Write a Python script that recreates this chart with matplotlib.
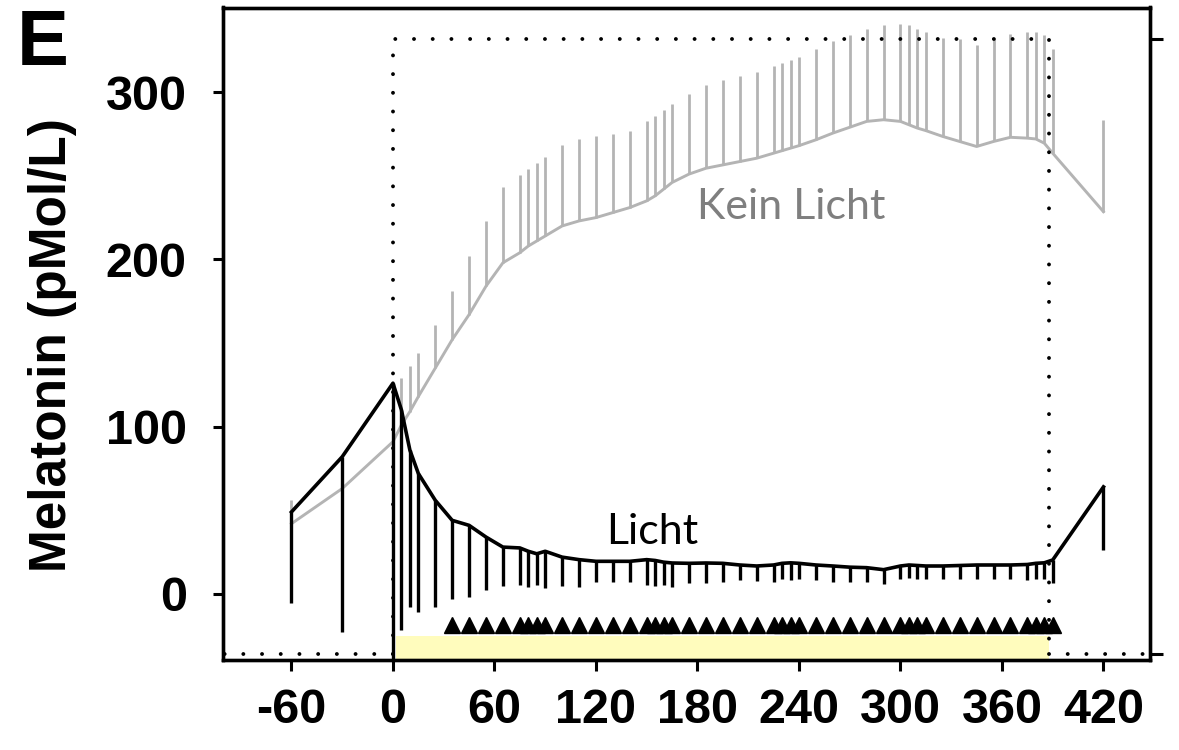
import matplotlib
matplotlib.use("Agg")
import matplotlib.pyplot as plt

# sample times (min relative to light onset)
minutes = [-60, -30, 0, 5, 10, 15, 25, 35, 45, 55, 65, 75, 80, 85, 90,
           100, 110, 120, 130, 140, 150, 155, 160, 165, 175, 185, 195, 205,
           215, 225, 230, 235, 240, 250, 260, 270, 280, 290, 300, 305, 310,
           315, 325, 335, 345, 355, 365, 375, 380, 385, 390, 420]

# no light condition: mean and top of error bar
kein_licht = [42, 63, 91, 101, 109, 118, 135, 152, 167, 184, 198, 204, 208,
              211, 214, 220, 223, 225, 228, 231, 235, 238, 242, 246, 251,
              254.5, 256.5, 258.5, 260.5, 263.5, 265, 266.5, 268, 271.5,
              275.5, 279, 282.5, 283.5, 282.5, 280.5, 278.5, 277, 273.5,
              270.5, 267.5, 270.5, 273, 272.5, 272, 269.5, 263.5, 228.5]
kein_licht_top = [56, 63, 91, 129, 136, 144, 161, 181, 202, 223, 243.5,
                  250.5, 254, 257.5, 261, 268.5, 272, 273.5, 275, 277, 282.5,
                  285.5, 289.5, 293, 299, 304.5, 307, 309.5, 312, 315.5,
                  317.5, 319, 321, 325.5, 330.5, 334, 338, 340, 341, 340,
                  338, 336, 332.5, 331.5, 328, 331.5, 335, 336, 336, 334,
                  326, 283.5]

# light condition: mean and bottom of error bar
licht = [49, 82, 126, 110, 86, 72, 56, 44, 41, 34, 28, 27.5, 25.5, 24, 25.5,
         22, 20.5, 19.5, 19.5, 19.5, 20.5, 20, 19, 18.5, 18.3, 18.5, 18.3,
         17.3, 16.7, 17.3, 18.3, 18.6, 18.3, 17.3, 16.7, 16, 15.7, 14.5,
         16.7, 17.3, 17, 16.7, 16.7, 17, 17.3, 17.3, 17.3, 17.6, 18.3, 18.6,
         20.3, 64]
licht_bottom = [-5.6, -22.5, -45, -21.5, -7.6, -10.6, -7.6, -3.2, -1.6, 2.4,
                4.8, 5.4, 4, 5.4, 3.4, 4.8, 4.4, 7.4, 7.4, 7.4, 5.4, 4.8, 5.4,
                4.4, 6.4, 6.8, 7.4, 8.4, 7.8, 7.4, 8.8, 8.4, 9.2, 8.4, 7.4, 7,
                7.4, 6, 9.2, 9.6, 9.2, 8.8, 9.2, 8.8, 9.2, 8.8, 9.2, 8.4, 9.2,
                8.8, 6.4, 26.3]

light_on = [2, 388]
box_top = 332
box_bottom = -36
x_ticks = [-60, 0, 60, 120, 180, 240, 300, 360, 420]
y_ticks = [0, 100, 200, 300]

marker_times = [t for t in minutes if 35 <= t <= 390]

plt.rcParams['font.family'] = ['Liberation Sans', 'DejaVu Sans']
plt.rcParams['axes.unicode_minus'] = False

fig = plt.figure(figsize=(11.79, 7.5), dpi=100)
ax = fig.add_axes([0.1891, 0.12, 0.7863, 0.87])

gray = '#b4b4b4'
up = [t - m for t, m in zip(kein_licht_top, kein_licht)]
ax.errorbar(minutes, kein_licht, yerr=[[0] * len(up), up], color=gray,
            lw=2.1, elinewidth=2.0, capsize=0, zorder=2)
down = [m - b for m, b in zip(licht, licht_bottom)]
ax.errorbar(minutes, licht, yerr=[down, [0] * len(down)], color='black',
            lw=2.6, elinewidth=2.4, capsize=0, zorder=3)

# light exposure bar and stimulus markers
ax.fill_between(light_on, -45, -25, color='#fffcbd', lw=0, zorder=1)
ax.plot(marker_times, [-18.4] * len(marker_times), ls='none', marker='^',
        ms=12, color='black', zorder=4)

# dotted outline of the light period
dot = dict(color='black', lw=2.8, ls=(0, (0.01, 4.8)), dash_capstyle='round',
           zorder=5)
ax.plot([0, -100], [box_bottom, box_bottom], **dot)
ax.plot([0, 0, light_on[1], light_on[1]],
        [box_bottom, box_top, box_top, box_bottom], **dot)
ax.plot([light_on[1], 447], [box_bottom, box_bottom], **dot)

ax.text(180, 224, 'Kein Licht', fontfamily='Lato', fontsize=31,
        color='#7f7f7f')
ax.text(126, 29.7, 'Licht', fontfamily='Lato', fontsize=31, color='black')

ax.set_xlim(-100.5, 447.5)
ax.set_ylim(-39.5, 350.6)
ax.set_xticks(x_ticks)
ax.set_yticks(y_ticks)
ax.tick_params(axis='y', length=7, width=2.2, pad=19, labelsize=35)
ax.tick_params(axis='x', length=8, width=2.2, pad=12, labelsize=35)
for lab in ax.get_xticklabels() + ax.get_yticklabels():
    lab.set_fontweight('bold')
for sp in ax.spines.values():
    sp.set_linewidth(2.4)

ax2 = ax.twinx()
ax2.set_ylim(ax.get_ylim())
ax2.set_yticks([box_top, box_bottom])
ax2.set_yticklabels([])
ax2.tick_params(length=9, width=2.2)
for sp in ax2.spines.values():
    sp.set_linewidth(2.4)

fig.text(0.0445, 0.54, 'Melatonin (pMol/L)', rotation=90, ha='center',
         va='center', fontsize=37, fontweight='bold')
fig.text(0.0144, 0.9133, 'E', fontsize=56, fontweight='bold', va='baseline')

fig.savefig('out.png', dpi=100)
